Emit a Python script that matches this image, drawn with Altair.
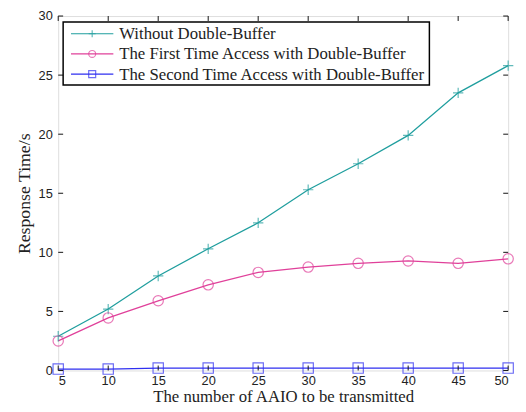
import altair as alt
import pandas as pd

x_vals = [5, 10, 15, 20, 25, 30, 35, 40, 45, 50]
without_db = [2.9, 5.2, 8.0, 10.3, 12.5, 15.3, 17.5, 19.9, 23.5, 25.8]
first_db = [2.5, 4.45, 5.9, 7.25, 8.3, 8.75, 9.07, 9.27, 9.07, 9.45]
second_db = [0.12, 0.12, 0.2, 0.2, 0.2, 0.2, 0.2, 0.2, 0.2, 0.2]

series_names = [
    "Without Double-Buffer",
    "The First Time Access with Double-Buffer",
    "The Second Time Access with Double-Buffer",
]
series_colors = ["#1f9e9e", "#e0409a", "#2f2ff0"]
series_shapes = ["M-1,0H1M0,-1V1", "circle", "square"]
x_ticks = [5, 10, 15, 20, 25, 30, 35, 40, 45, 50]
y_ticks = [0, 5, 10, 15, 20, 25, 30]

rows = []
for name, vals in zip(series_names, [without_db, first_db, second_db]):
    for xv, yv in zip(x_vals, vals):
        rows.append({"n": xv, "t": yv, "series": name})
df = pd.DataFrame(rows)

W, H = 457, 360

xs = alt.Scale(domain=[5, 50], nice=False)
ys = alt.Scale(domain=[0, 30], nice=False)
cs = alt.Scale(domain=series_names, range=series_colors)
ss = alt.Scale(domain=series_names, range=series_shapes)

base = alt.Chart(df)

lines = base.mark_line(strokeWidth=1.3).encode(
    x=alt.X("n:Q", scale=xs,
            axis=alt.Axis(values=x_ticks, title="The number of AAIO to be transmitted",
                          ticks=False, domain=False, grid=False,
                          labelFont="Liberation Sans", labelFontSize=13, labelColor="#222",
                          labelPadding=4, titleFont="Liberation Serif", titleFontSize=17,
                          titleFontWeight="normal", titleColor="#222", titlePadding=2)),
    y=alt.Y("t:Q", scale=ys,
            axis=alt.Axis(values=y_ticks, title="Response Time/s",
                          ticks=False, domain=False, grid=False,
                          labelFont="Liberation Sans", labelFontSize=13, labelColor="#222",
                          labelPadding=6, titleFont="Liberation Serif", titleFontSize=18,
                          titleFontWeight="normal", titleColor="#222", titlePadding=5)),
    color=alt.Color("series:N", scale=cs, legend=None),
    detail="series:N",
)

points = base.mark_point(filled=False, size=110, strokeWidth=1.2).encode(
    x=alt.X("n:Q", scale=xs),
    y=alt.Y("t:Q", scale=ys),
    color=alt.Color("series:N", scale=cs, legend=None),
    shape=alt.Shape("series:N", scale=ss, legend=None),
)

xt = pd.DataFrame({"v": x_ticks})
yt = pd.DataFrame({"v": y_ticks})
tick_color = "#111"
xtick_b = alt.Chart(xt).mark_rule(color=tick_color).encode(
    x=alt.X("v:Q", scale=xs), y=alt.value(H), y2=alt.value(H - 5))
xtick_t = alt.Chart(xt).mark_rule(color=tick_color).encode(
    x=alt.X("v:Q", scale=xs), y=alt.value(0), y2=alt.value(5))
ytick_l = alt.Chart(yt).mark_rule(color=tick_color).encode(
    y=alt.Y("v:Q", scale=ys), x=alt.value(0), x2=alt.value(5))
ytick_r = alt.Chart(yt).mark_rule(color=tick_color).encode(
    y=alt.Y("v:Q", scale=ys), x=alt.value(W), x2=alt.value(W - 5))

# legend
leg_df = pd.DataFrame({"series": series_names})
legend_layers = []
box = alt.Chart(leg_df.head(1)).mark_rect(fill="white", stroke="black", strokeWidth=1.5).encode(
    x=alt.value(5), x2=alt.value(377), y=alt.value(6), y2=alt.value(70))
legend_layers.append(box)
for i, (name, col, shp) in enumerate(zip(series_names, series_colors, series_shapes)):
    ypix = 18 + i * 20.5
    one = alt.Chart(pd.DataFrame({"series": [name]}))
    legend_layers.append(one.mark_rule(color=col, strokeWidth=1.2).encode(
        x=alt.value(13), x2=alt.value(56), y=alt.value(ypix)))
    legend_layers.append(one.mark_point(shape=shp, filled=False, color=col, size=50,
                                        strokeWidth=1.2).encode(
        x=alt.value(34.5), y=alt.value(ypix)))
    legend_layers.append(one.mark_text(align="left", baseline="middle", font="Liberation Serif",
                                       fontSize=17, color="#222").encode(
        x=alt.value(62), y=alt.value(ypix + 0.5), text="series:N"))

chart = alt.layer(
    lines, points, xtick_b, xtick_t, ytick_l, ytick_r, *legend_layers
).properties(
    width=W, height=H,
    autosize=alt.AutoSizeParams(type="none"),
    padding={"left": 51, "top": 5, "right": 10, "bottom": 39},
).configure_view(stroke="black", strokeWidth=1.2).configure(background="white")

chart.save("out.html", embed_options={"renderer": "svg", "actions": False})
